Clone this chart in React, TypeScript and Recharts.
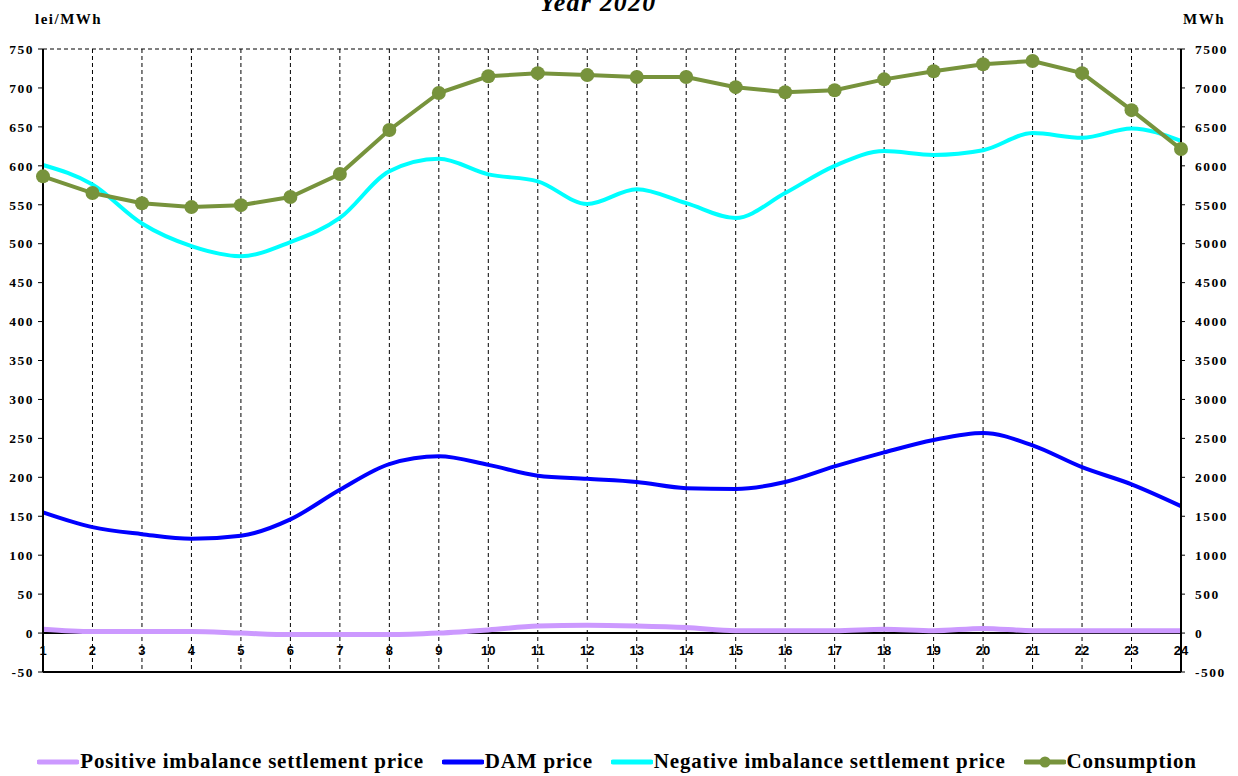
import React from 'react'
import { LineChart, Line, XAxis, YAxis, CartesianGrid, ReferenceLine, Legend } from 'recharts'

// hourly values, Year 2020
const hours = [1, 2, 3, 4, 5, 6, 7, 8, 9, 10, 11, 12, 13, 14, 15, 16, 17, 18, 19, 20, 21, 22, 23, 24]
const positiveImbalance = [5, 2, 2, 2, 0, -2, -2, -2, 0, 4, 9, 10, 9, 7, 3, 3, 3, 5, 3, 6, 3, 3, 3, 3]
const damPrice = [155, 136, 127, 121, 125, 146, 184, 217, 227, 216, 202, 198, 194, 186, 185, 194, 214, 232, 248, 257, 241, 213, 191, 163]
const negativeImbalance = [601, 576, 526, 497, 484, 502, 533, 593, 609, 589, 580, 551, 570, 552, 533, 565, 600, 619, 614, 620, 642, 636, 648, 632]
const consumption = [5865, 5650, 5520, 5470, 5495, 5600, 5895, 6460, 6935, 7150, 7190, 7165, 7140, 7140, 7010, 6945, 6970, 7110, 7215, 7305, 7345, 7190, 6715, 6215]

const leftTicks = [-50, 0, 50, 100, 150, 200, 250, 300, 350, 400, 450, 500, 550, 600, 650, 700, 750]
const rightTicks = [-500, 0, 500, 1000, 1500, 2000, 2500, 3000, 3500, 4000, 4500, 5000, 5500, 6000, 6500, 7000, 7500]

const data = hours.map((h, i) => ({
    hour: h,
    positive: positiveImbalance[i],
    dam: damPrice[i],
    negative: negativeImbalance[i],
    consumption: consumption[i],
}))

const serif = '"Liberation Serif", "Times New Roman", serif'
const sans = '"Liberation Sans", Arial, sans-serif'

const legendItems = [
    { label: 'Positive imbalance settlement price', color: '#CC99FF', dot: false },
    { label: 'DAM price', color: '#0000FF', dot: false },
    { label: 'Negative imbalance settlement price', color: '#00FFFF', dot: false },
    { label: 'Consumption', color: '#77933C', dot: true },
]

const HourTick = (props: any) => {
    const { x, y, payload } = props
    return (
        <text x={x} y={y - 17} textAnchor='middle' fontFamily={sans} fontWeight='bold' fontSize={13} fill='#000'>
            {payload.value}
        </text>
    )
}

const ChartLegend = () => (
    <div style={{ display: 'flex', justifyContent: 'center', alignItems: 'center', paddingRight: 4 }}>
        {legendItems.map((item, i) => (
            <div key={item.label} style={{ display: 'flex', alignItems: 'center', marginRight: i < legendItems.length - 1 ? 18 : 0 }}>
                <svg width={42} height={14}>
                    <line x1={2} y1={7} x2={40} y2={7} stroke={item.color} strokeWidth={5} strokeLinecap='round' />
                    {item.dot && <circle cx={21} cy={7} r={5.5} fill={item.color} />}
                </svg>
                <span style={{ fontFamily: serif, fontWeight: 'bold', fontSize: 21, letterSpacing: 0.8, color: '#000', marginLeft: 1, whiteSpace: 'nowrap' }}>{item.label}</span>
            </div>
        ))}
    </div>
)

const tickStyle = { fill: '#000', fontFamily: serif, fontWeight: 'bold', fontSize: 13.5, letterSpacing: 1.5 }

export default function App() {
    return (
        <div style={{ position: 'absolute', left: 0, top: 0, width: 1238, height: 776, background: '#fff', overflow: 'hidden' }}>
            <div style={{ position: 'absolute', top: -10, left: 0, width: 1196, textAlign: 'center', fontFamily: serif, fontWeight: 'bold', fontStyle: 'italic', fontSize: 26, letterSpacing: 1.2, lineHeight: '26px' }}>
                Year 2020
            </div>
            <div style={{ position: 'absolute', top: 12, left: 35, fontFamily: serif, fontWeight: 'bold', fontSize: 15, letterSpacing: 1.5, lineHeight: '15px' }}>lei/MWh</div>
            <div style={{ position: 'absolute', top: 12, left: 1183, fontFamily: serif, fontWeight: 'bold', fontSize: 15, letterSpacing: 1.5, lineHeight: '15px' }}>MWh</div>
            <LineChart width={1238} height={776} data={data} margin={{ top: 49, right: 0, bottom: 74, left: 0 }}>
                <CartesianGrid stroke='#000' strokeDasharray='4 3' strokeWidth={1} />
                <XAxis
                    dataKey='hour'
                    type='number'
                    domain={[1, 24]}
                    ticks={hours}
                    interval={0}
                    height={30}
                    tickLine={false}
                    tickSize={0}
                    tickMargin={0}
                    tick={<HourTick />}
                    axisLine={{ stroke: '#000', strokeWidth: 2 }}
                />
                <YAxis
                    yAxisId='left'
                    orientation='left'
                    width={43}
                    domain={[-50, 750]}
                    ticks={leftTicks}
                    interval={0}
                    tickSize={5}
                    tickMargin={4}
                    axisLine={{ stroke: '#000', strokeWidth: 2 }}
                    tickLine={{ stroke: '#000' }}
                    tick={tickStyle}
                />
                <YAxis
                    yAxisId='right'
                    orientation='right'
                    width={57}
                    domain={[-500, 7500]}
                    ticks={rightTicks}
                    interval={0}
                    tickSize={4}
                    tickMargin={10}
                    axisLine={{ stroke: '#000', strokeWidth: 2 }}
                    tickLine={{ stroke: '#000' }}
                    tick={tickStyle}
                />
                <ReferenceLine yAxisId='left' y={0} stroke='#000' strokeWidth={2} />
                <Legend layout='horizontal' verticalAlign='middle' align='center' wrapperStyle={{ top: 749, left: 0, width: 1238 }} content={<ChartLegend />} />
                <Line yAxisId='left' type='monotone' dataKey='positive' name='Positive imbalance settlement price' stroke='#CC99FF' strokeWidth={5} dot={false} isAnimationActive={false} />
                <Line yAxisId='left' type='monotone' dataKey='dam' name='DAM price' stroke='#0000FF' strokeWidth={4} dot={false} isAnimationActive={false} />
                <Line yAxisId='left' type='monotone' dataKey='negative' name='Negative imbalance settlement price' stroke='#00FFFF' strokeWidth={4} dot={false} isAnimationActive={false} />
                <Line yAxisId='right' type='linear' dataKey='consumption' name='Consumption' stroke='#77933C' strokeWidth={4} dot={{ r: 7, fill: '#77933C', stroke: '#77933C', strokeWidth: 0 }} isAnimationActive={false} />
            </LineChart>
        </div>
    )
}
